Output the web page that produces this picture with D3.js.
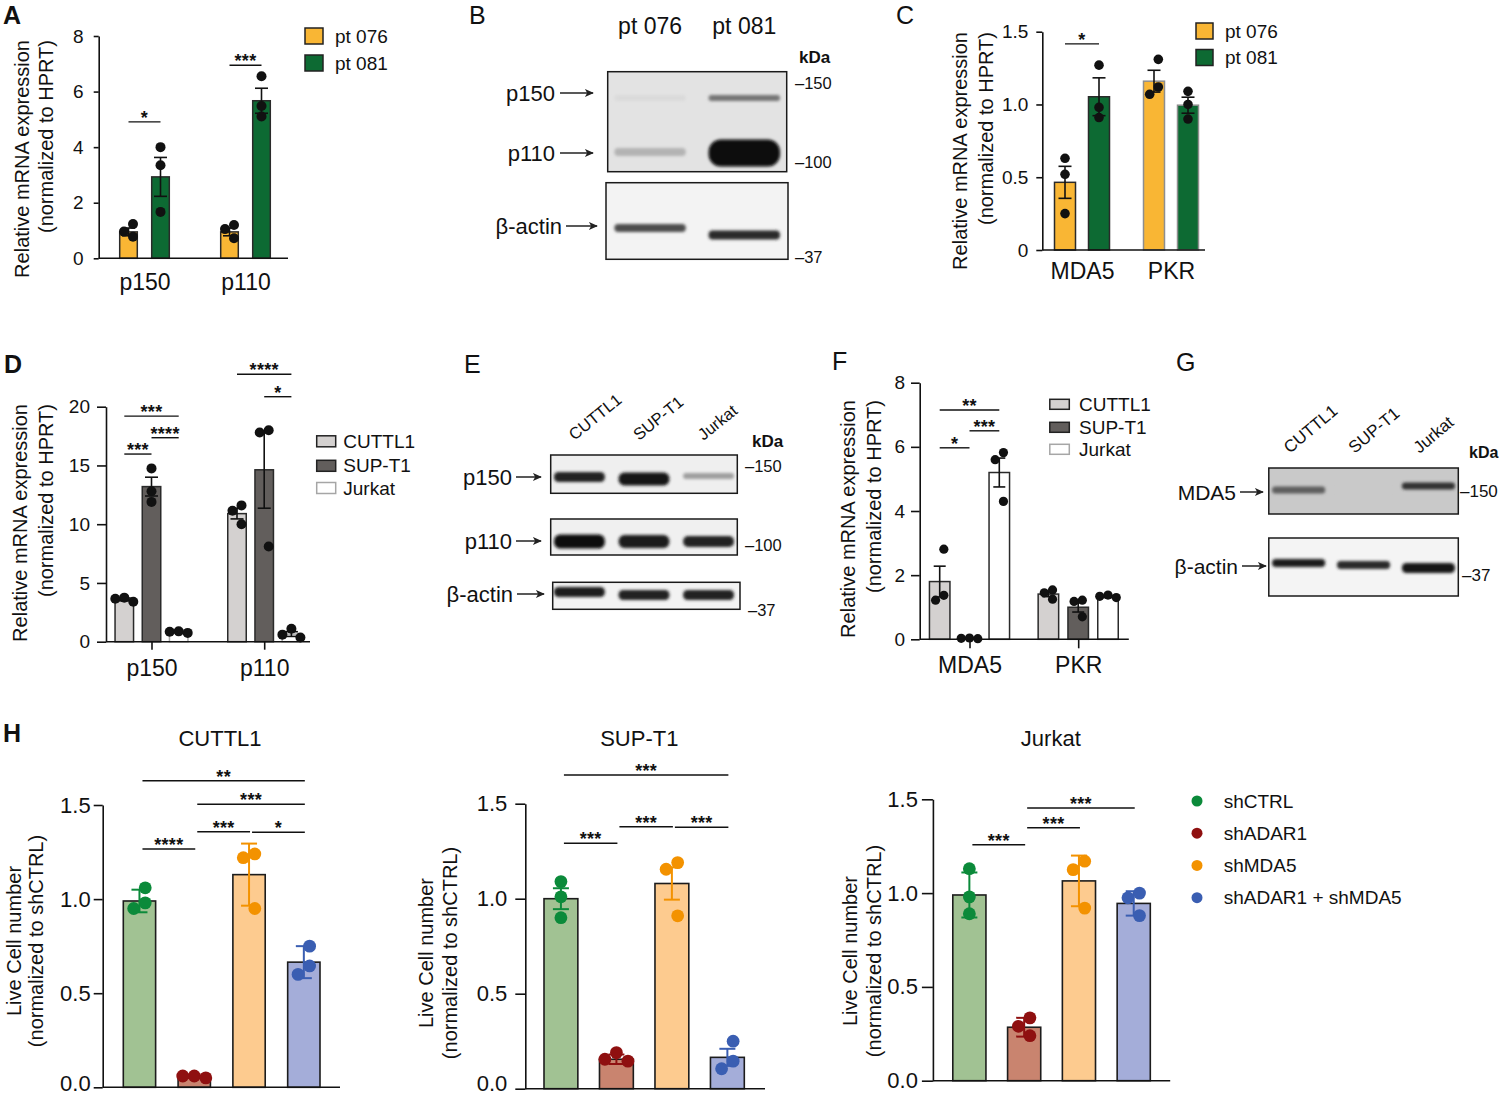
<!DOCTYPE html>
<html><head><meta charset="utf-8">
<script src="https://cdn.jsdelivr.net/npm/d3@7"></script>
<style>
body{margin:0;background:#fff;}
svg{display:block;}
</style></head><body>
<script>
// ======================= DATA =======================
// Panel A – ADAR1 isoform mRNA in patients
const aCategories = ['p150', 'p110'];
const aSeries = ['pt 076', 'pt 081'];
const aTicks = [0, 2, 4, 6, 8];
const aTickLabels = ['0', '2', '4', '6', '8'];
const aPt076Mean = [0.95, 0.95];
const aPt076Err = [0.14, 0.14];
const aPt076Pts = [[1.23, 0.96, 0.78], [1.2, 1.05, 0.72]];
const aPt081Mean = [2.93, 5.67];
const aPt081Err = [0.70, 0.45];
const aPt081Pts = [[4.0, 3.35, 1.67], [6.55, 5.48, 5.1]];
const aSig = [
  {cat: 'p150', from: 'pt 076', to: 'pt 081', level: 4.91, label: '*'},
  {cat: 'p110', from: 'pt 076', to: 'pt 081', level: 6.95, label: '***'}
];

// Panel B – western blot, patients
const bLanes = ['pt 076', 'pt 081'];
const bP150 = [0.04, 0.5];
const bP110 = [0.22, 1.0];
const bActin = [0.7, 0.85];

// Panel C – MDA5 / PKR mRNA in patients
const cCategories = ['MDA5', 'PKR'];
const cTicks = [0, 0.5, 1, 1.5];
const cTickLabels = ['0', '0.5', '1.0', '1.5'];
const cPt076Mean = [0.465, 1.16];
const cPt076Err = [0.11, 0.075];
const cPt076Pts = [[0.63, 0.52, 0.25], [1.31, 1.12, 1.07]];
const cPt081Mean = [1.053, 0.995];
const cPt081Err = [0.13, 0.055];
const cPt081Pts = [[1.27, 0.98, 0.91], [1.09, 1.0, 0.9]];
const cSig = [{cat: 'MDA5', from: 'pt 076', to: 'pt 081', level: 1.416, label: '*'}];

// Panel D – ADAR1 isoform mRNA in cell lines
const dCategories = ['p150', 'p110'];
const dSeries = ['CUTTL1', 'SUP-T1', 'Jurkat'];
const dTicks = [0, 5, 10, 15, 20];
const dTickLabels = ['0', '5', '10', '15', '20'];
const dCuttl1Mean = [3.6, 10.9];
const dCuttl1Err = [0.12, 0.45];
const dCuttl1Pts = [[3.4, 3.75, 3.65], [11.6, 11.15, 10.0]];
const dSupt1Mean = [13.2, 14.63];
const dSupt1Err = [0.8, 3.27];
const dSupt1Pts = [[14.75, 12.8, 11.9], [18.0, 17.8, 8.1]];
const dJurkatMean = [0.82, 0.65];
const dJurkatErr = [0.05, 0.2];
const dJurkatPts = [[0.75, 0.88, 0.85], [1.1, 0.35, 0.6]];
const dSig = [
  {cat: 'p150', from: 'CUTTL1', to: 'SUP-T1', level: 15.97, label: '***'},
  {cat: 'p150', from: 'SUP-T1', to: 'Jurkat', level: 17.36, label: '****'},
  {cat: 'p150', from: 'CUTTL1', to: 'Jurkat', level: 19.2, label: '***'},
  {cat: 'p110', from: 'CUTTL1', to: 'Jurkat', level: 22.76, label: '****'},
  {cat: 'p110', from: 'SUP-T1', to: 'Jurkat', level: 20.85, label: '*'}
];

// Panel E – western blot, cell lines
const eLanes = ['CUTTL1', 'SUP-T1', 'Jurkat'];
const eP150 = [0.88, 0.95, 0.35];
const eP110 = [0.97, 0.92, 0.88];
const eActin = [0.92, 0.88, 0.88];

// Panel F – MDA5 / PKR mRNA in cell lines
const fCategories = ['MDA5', 'PKR'];
const fTicks = [0, 2, 4, 6, 8];
const fTickLabels = ['0', '2', '4', '6', '8'];
const fCuttl1Mean = [1.8, 1.41];
const fCuttl1Err = [0.48, 0.08];
const fCuttl1Pts = [[2.81, 1.22, 1.37], [1.54, 1.25, 1.45]];
const fSupt1Mean = [0.03, 1.0];
const fSupt1Err = [0.01, 0.15];
const fSupt1Pts = [[0.02, 0.03, 0.04], [1.22, 1.18, 0.7]];
const fJurkatMean = [5.2, 1.33];
const fJurkatErr = [0.45, 0.03];
const fJurkatPts = [[5.82, 5.6, 4.3], [1.38, 1.3, 1.34]];
const fSig = [
  {cat: 'MDA5', from: 'CUTTL1', to: 'Jurkat', level: 7.15, label: '**'},
  {cat: 'MDA5', from: 'CUTTL1', to: 'SUP-T1', level: 5.97, label: '*'},
  {cat: 'MDA5', from: 'SUP-T1', to: 'Jurkat', level: 6.5, label: '***'}
];

// Panel G – MDA5 western blot
const gLanes = ['CUTTL1', 'SUP-T1', 'Jurkat'];
const gMDA5 = [0.55, 0.0, 0.78];
const gActin = [0.9, 0.85, 0.95];

// Panel H – live cell number after knockdown
const hGroups = ['shCTRL', 'shADAR1', 'shMDA5', 'shADAR1 + shMDA5'];
const hTicks = [0, 0.5, 1, 1.5];
const hTickLabels = ['0.0', '0.5', '1.0', '1.5'];
const hCuttl1Mean = [0.99, 0.055, 1.13, 0.665];
const hCuttl1Err = [0.06, 0.006, 0.165, 0.085];
const hCuttl1Pts = [[1.06, 0.98, 0.95], [0.05, 0.06, 0.06], [1.24, 1.22, 0.95], [0.75, 0.645, 0.60]];
const hCuttl1Sig = [
  {from: 'shCTRL', to: 'shADAR1', level: 1.266, label: '****'},
  {from: 'shADAR1', to: 'shMDA5', level: 1.358, label: '***'},
  {from: 'shMDA5', to: 'shADAR1 + shMDA5', level: 1.355, label: '*'},
  {from: 'shADAR1', to: 'shADAR1 + shMDA5', level: 1.504, label: '***'},
  {from: 'shCTRL', to: 'shADAR1 + shMDA5', level: 1.629, label: '**'}
];
const hSupt1Mean = [1.0, 0.155, 1.08, 0.165];
const hSupt1Err = [0.055, 0.025, 0.085, 0.045];
const hSupt1Pts = [[1.09, 1.01, 0.9], [0.19, 0.145, 0.155], [1.19, 1.155, 0.91], [0.25, 0.145, 0.105]];
const hSupt1Sig = [
  {from: 'shCTRL', to: 'shADAR1', level: 1.292, label: '***'},
  {from: 'shADAR1', to: 'shMDA5', level: 1.379, label: '***'},
  {from: 'shMDA5', to: 'shADAR1 + shMDA5', level: 1.376, label: '***'},
  {from: 'shCTRL', to: 'shADAR1 + shMDA5', level: 1.651, label: '***'}
];
const hJurkatMean = [0.99, 0.285, 1.065, 0.945];
const hJurkatErr = [0.12, 0.05, 0.135, 0.065];
const hJurkatPts = [[1.13, 0.98, 0.89], [0.335, 0.29, 0.24], [1.17, 1.125, 0.92], [1.0, 0.975, 0.88]];
const hJurkatSig = [
  {from: 'shCTRL', to: 'shADAR1', level: 1.258, label: '***'},
  {from: 'shADAR1', to: 'shMDA5', level: 1.348, label: '***'},
  {from: 'shADAR1', to: 'shADAR1 + shMDA5', level: 1.454, label: '***'}
];

// ======================= STYLE =======================
const FONT = '"Liberation Sans", Arial, Helvetica, sans-serif';
const INK = '#111';
const COL_PT076 = '#F9B634', COL_PT081 = '#0D6A33';
const COL_CUTTL1 = '#D4D1D0', COL_SUPT1 = '#625E5C', COL_JURKAT = '#FFFFFF';
const H_FILL = ['#A1C293', '#C9846F', '#FDCB8F', '#A4ADD9'];
const H_DOT = ['#0B8A3A', '#8F1010', '#F39200', '#3A5EB2'];
const PAGE_H = 1095;

// ======================= SETUP =======================
const svg = d3.select('body').append('svg').attr('width', 1500).attr('height', PAGE_H)
  .attr('font-family', FONT);
svg.append('rect').attr('width', 1500).attr('height', PAGE_H).attr('fill', '#fff');
const defs = svg.append('defs');
defs.append('filter').attr('id', 'blur').attr('x', '-20%').attr('y', '-150%')
  .attr('width', '140%').attr('height', '400%')
  .append('feGaussianBlur').attr('stdDeviation', 1.6);
defs.append('marker').attr('id', 'arr').attr('viewBox', '0 0 10 10').attr('refX', 9).attr('refY', 5)
  .attr('markerWidth', 10).attr('markerHeight', 9).attr('markerUnits', 'userSpaceOnUse').attr('orient', 'auto')
  .append('path').attr('d', 'M0,0.5 L10,5 L0,9.5 L2.5,5 Z').attr('fill', '#222');

function text(g, str, x, y, o = {}) {
  const t = g.append('text').attr('x', x).attr('y', y).text(str)
    .attr('font-size', o.fs || 19).attr('fill', o.fill || INK)
    .attr('text-anchor', o.anchor || 'start').attr('font-family', FONT);
  if (o.bold) t.attr('font-weight', 'bold');
  if (o.db) t.attr('dominant-baseline', o.db);
  if (o.ls != null) t.attr('letter-spacing', o.ls);
  if (o.rot != null) t.attr('transform', `rotate(${o.rot},${x},${y})`);
  return t;
}

function yAxis(g, y, x, ticks, labels, o) {
  const a = g.append('g').attr('transform', `translate(${x},0)`)
    .call(d3.axisLeft(y).tickValues(ticks).tickFormat((d, i) => labels[i])
      .tickSize(o.tick).tickPadding(o.pad).tickSizeOuter(0));
  a.select('.domain').attr('stroke', INK).attr('stroke-width', 1.6);
  a.selectAll('.tick line').attr('stroke', INK).attr('stroke-width', 1.6);
  a.selectAll('.tick text').attr('font-size', o.fs).attr('fill', INK).attr('font-family', FONT)
    .attr('dy', d => {
      // keep the lowest label inside the page (baseline + descent)
      const base = y(d) + 0.32 * o.fs, limit = PAGE_H - 0.22 * o.fs;
      return (base > limit ? (limit - y(d)) : 0.32 * o.fs) + 'px';
    });
}

function catAxis(g, xs, y0, o) {
  const a = g.append('g').attr('transform', `translate(0,${y0})`)
    .call(d3.axisBottom(xs).tickSize(o.tick).tickPadding(o.pad).tickSizeOuter(0));
  a.select('.domain').remove();
  a.selectAll('.tick line').attr('stroke', INK).attr('stroke-width', 1.6);
  a.selectAll('.tick text').attr('font-size', o.fs).attr('fill', INK).attr('font-family', FONT);
}

// GraphPad-like horizontal spreading of overlapping points
function spread(vals, y, r) {
  const pts = vals.map(v => ({v, py: y(v)})).sort((a, b) => b.v - a.v);
  const d = 1.8 * r, placed = [];
  pts.forEach(p => {
    for (const k of [0, -1, 1, -2, 2]) {
      const ox = k * d;
      if (placed.every(q => Math.hypot(q.ox - ox, q.py - p.py) >= d - 0.01)) { p.ox = ox; break; }
    }
    if (p.ox === undefined) p.ox = 0;
    placed.push(p);
  });
  const sh = -(d3.min(placed, p => p.ox) + d3.max(placed, p => p.ox)) / 2;
  placed.forEach(p => p.ox += sh);
  return placed;
}

function drawBars(g, y, items, o) {
  g.selectAll(null).data(items).join('rect')
    .attr('x', d => d.cx - d.w / 2).attr('y', d => y(d.mean))
    .attr('width', d => d.w).attr('height', d => y(0) - y(d.mean))
    .attr('fill', d => d.fill).attr('stroke', d => d.stroke).attr('stroke-width', o.sw);
  items.forEach(d => {
    const eg = g.append('g').attr('stroke', d.errColor).attr('stroke-width', o.ew).attr('fill', 'none');
    const yt = y(d.mean + d.err), yb = y(Math.max(0, d.mean - d.err));
    eg.append('line').attr('x1', d.cx).attr('x2', d.cx).attr('y1', yt).attr('y2', yb);
    eg.append('line').attr('x1', d.cx - o.cap).attr('x2', d.cx + o.cap).attr('y1', yt).attr('y2', yt);
    eg.append('line').attr('x1', d.cx - o.cap).attr('x2', d.cx + o.cap).attr('y1', yb).attr('y2', yb);
  });
  items.forEach(d => {
    g.selectAll(null).data(spread(d.pts, y, o.r)).join('circle')
      .attr('cx', p => d.cx + p.ox).attr('cy', p => p.py).attr('r', o.r).attr('fill', d.dot);
  });
}

function bracket(g, x1, x2, yy, label, fs) {
  g.append('line').attr('x1', x1).attr('x2', x2).attr('y1', yy).attr('y2', yy)
    .attr('stroke', INK).attr('stroke-width', 1.4);
  text(g, label, (x1 + x2) / 2, yy + 2, {fs: fs || 18, anchor: 'middle', bold: true, ls: 0.3});
}

function yTitle2(g, l1, l2, x1, x2, yy, anchor) {
  text(g, l1, x1, yy, {fs: 20, anchor, db: 'central', rot: -90});
  text(g, l2, x2, yy, {fs: 20, anchor, db: 'central', rot: -90});
}

// ---------- grouped bar panel (A, C, D, F) ----------
function groupedPanel(c) {
  const g = svg.append('g');
  const y = d3.scaleLinear().domain(c.yDomain).range(c.yRange);
  const x = d3.scalePoint().domain(c.categories).range(c.catRange);
  const n = c.series.length;
  const s = d3.scaleBand().domain(c.series.map(d => d.name))
    .range([-n * c.step / 2, n * c.step / 2])
    .paddingInner(1 - c.bw / c.step).paddingOuter((1 - c.bw / c.step) / 2);
  const cx = (cat, sn) => x(cat) + s(sn) + s.bandwidth() / 2;
  const items = [];
  c.categories.forEach((cat, ci) => c.series.forEach(se => items.push({
    cx: cx(cat, se.name), w: s.bandwidth(), mean: se.mean[ci], err: se.err[ci], pts: se.pts[ci],
    fill: se.fill, stroke: Array.isArray(se.stroke) ? se.stroke[ci] : se.stroke, dot: INK, errColor: INK
  })));
  drawBars(g, y, items, c.barOpt);
  g.append('line').attr('x1', c.axisX).attr('x2', c.xEnd).attr('y1', y(0)).attr('y2', y(0))
    .attr('stroke', INK).attr('stroke-width', 1.6);
  yAxis(g, y, c.axisX, c.ticks, c.tickLabels, c.yOpt);
  catAxis(g, x, y(0), c.xOpt);
  c.sig.forEach(b => bracket(g, cx(b.cat, b.from), cx(b.cat, b.to), y(b.level), b.label));
  // legend
  c.series.forEach((se, i) => {
    const cy = c.legend.rows[i];
    g.append('rect').attr('x', c.legend.x).attr('y', cy - c.legend.h / 2)
      .attr('width', c.legend.w).attr('height', c.legend.h)
      .attr('fill', se.fill).attr('stroke', se.legendStroke || '#222').attr('stroke-width', 1.5);
    text(g, se.name, c.legend.tx, cy, {fs: 19, db: 'central'});
  });
  yTitle2(g, 'Relative mRNA expression', '(normalized to HPRT)', c.title.x1, c.title.x2, c.title.y, 'end');
  text(g, c.panel.t, c.panel.x, c.panel.y, {fs: 25, bold: c.panel.bold});
  return g;
}

// ---------- blot panel (B, E, G) ----------
let clipN = 0;
function blotPanel(c) {
  const g = svg.append('g');
  const lanes = d3.scaleBand().domain(c.lanes).range(c.laneRange)
    .paddingInner(c.pi).paddingOuter(c.po);
  c.blots.forEach(b => {
    const id = 'clip' + (clipN++);
    defs.append('clipPath').attr('id', id).append('rect')
      .attr('x', b.box[0]).attr('y', b.box[1]).attr('width', b.box[2] - b.box[0]).attr('height', b.box[3] - b.box[1]);
    const bg = g.append('g').attr('clip-path', `url(#${id})`);
    bg.append('rect').attr('x', b.box[0]).attr('y', b.box[1])
      .attr('width', b.box[2] - b.box[0]).attr('height', b.box[3] - b.box[1]).attr('fill', b.bg);
    const col = d3.scaleLinear().domain([0, 1]).range([b.bg, '#070707']).interpolate(d3.interpolateRgb);
    b.rows.forEach(r => {
      const pick = (v, i) => Array.isArray(v) ? v[i] : v;
      bg.selectAll(null).data(r.vals.map((v, i) => ({v, i, lane: c.lanes[i]}))).join('rect')
        .attr('x', d => lanes(d.lane) + 2).attr('width', lanes.bandwidth() - 4)
        .attr('y', d => pick(r.cy, d.i) - pick(r.thick, d.i) / 2)
        .attr('height', d => pick(r.thick, d.i))
        .attr('rx', d => pick(r.thick, d.i) / 2.2)
        .attr('fill', d => col(d.v)).attr('filter', 'url(#blur)');
    });
    g.append('rect').attr('x', b.box[0]).attr('y', b.box[1])
      .attr('width', b.box[2] - b.box[0]).attr('height', b.box[3] - b.box[1])
      .attr('fill', 'none').attr('stroke', '#1a1a1a').attr('stroke-width', 1.5);
  });
  c.labels.forEach(l => {
    text(g, l.t, l.x, l.y, {fs: c.labelFs, anchor: 'end', db: 'central'});
    g.append('line').attr('x1', l.a1).attr('x2', l.a2).attr('y1', l.y).attr('y2', l.y)
      .attr('stroke', '#222').attr('stroke-width', 1.5).attr('marker-end', 'url(#arr)');
  });
  c.markers.forEach(m => text(g, m.t, m.x, m.y, {fs: c.markerFs, db: 'central'}));
  text(g, 'kDa', c.kda[0], c.kda[1], {fs: c.kdaFs, bold: true});
  c.lanes.forEach(ln => {
    const x = lanes(ln) + lanes.bandwidth() / 2;
    if (c.laneRot) text(g, ln, x + c.laneDx, c.laneY, {fs: c.laneFs, rot: c.laneRot});
    else text(g, ln, x, c.laneY, {fs: c.laneFs, anchor: 'middle'});
  });
  text(g, c.panel.t, c.panel.x, c.panel.y, {fs: 25, bold: c.panel.bold});
}

// ---------- H panel ----------
function hPanel(c) {
  const g = svg.append('g');
  const y = d3.scaleLinear().domain([0, 1.5]).range(c.yRange);
  const x = d3.scaleBand().domain(hGroups).range(c.barRange).paddingInner(c.pi);
  const cx = name => x(name) + x.bandwidth() / 2;
  const items = hGroups.map((gn, i) => ({
    cx: cx(gn), w: x.bandwidth(), mean: c.mean[i], err: c.err[i], pts: c.pts[i],
    fill: H_FILL[i], stroke: '#1c1c1c', dot: H_DOT[i], errColor: H_DOT[i]
  }));
  drawBars(g, y, items, {sw: 1.6, ew: 2, cap: 8, r: 6.4});
  g.append('line').attr('x1', c.axisX).attr('x2', c.xEnd).attr('y1', y(0)).attr('y2', y(0))
    .attr('stroke', INK).attr('stroke-width', 1.6);
  yAxis(g, y, c.axisX, hTicks, hTickLabels, {tick: c.tick, pad: c.pad, fs: 22});
  c.sig.forEach(b => bracket(g, cx(b.from) + 3, cx(b.to) + 1, y(b.level), b.label));
  text(g, c.name, c.titleX, 746, {fs: 22, anchor: 'middle'});
  yTitle2(g, 'Live Cell number', '(normalized to shCTRL)', c.tx1, c.tx2, c.ty, 'middle');
  return g;
}

// ======================= PANELS =======================
groupedPanel({
  categories: aCategories, yDomain: [0, 8], yRange: [258.3, 36], catRange: [144.5, 245.5],
  step: 32, bw: 17.6, axisX: 98.7, xEnd: 288,
  ticks: aTicks, tickLabels: aTickLabels,
  yOpt: {tick: 5, pad: 10, fs: 19}, xOpt: {tick: 0, pad: 15, fs: 23},
  barOpt: {sw: 1.5, ew: 1.6, cap: 6.5, r: 5},
  series: [
    {name: aSeries[0], mean: aPt076Mean, err: aPt076Err, pts: aPt076Pts, fill: COL_PT076, stroke: '#2a2a2a'},
    {name: aSeries[1], mean: aPt081Mean, err: aPt081Err, pts: aPt081Pts, fill: COL_PT081, stroke: '#2a2a2a'}
  ],
  sig: aSig,
  legend: {x: 305, w: 18, h: 16, rows: [36, 63], tx: 335},
  title: {x1: 21.5, x2: 46, y: 40},
  panel: {t: 'A', x: 3, y: 24, bold: true}
});

blotPanel({
  lanes: bLanes, laneRange: [607.7, 786.7], pi: 0.2, po: 0.05,
  blots: [
    {box: [607.7, 71.7, 786.7, 171.7], bg: '#e3e3e3', rows: [
      {vals: bP150, cy: 98, thick: 6},
      {vals: bP110, cy: [152, 153], thick: [8, 27]}
    ]},
    {box: [606, 182.7, 788, 259.3], bg: '#f3f3f3', rows: [
      {vals: bActin, cy: [228, 235], thick: [8, 9]}
    ]}
  ],
  labels: [
    {t: 'p150', x: 555, y: 93, a1: 560, a2: 593},
    {t: 'p110', x: 555, y: 153, a1: 560, a2: 593},
    {t: 'β-actin', x: 562, y: 226, a1: 566, a2: 597}
  ],
  labelFs: 22,
  markers: [{t: '–150', x: 795, y: 83}, {t: '–100', x: 795, y: 162}, {t: '–37', x: 795, y: 257}],
  markerFs: 16.5, kda: [799, 63], kdaFs: 17,
  laneY: 34, laneFs: 23,
  panel: {t: 'B', x: 469, y: 24, bold: false}
});

groupedPanel({
  categories: cCategories, yDomain: [0, 1.5], yRange: [250, 31.7], catRange: [1082, 1171],
  step: 34, bw: 21, axisX: 1042.3, xEnd: 1205,
  ticks: cTicks, tickLabels: cTickLabels,
  yOpt: {tick: 6, pad: 8, fs: 19}, xOpt: {tick: 0, pad: 13, fs: 23},
  barOpt: {sw: 1.5, ew: 1.6, cap: 6.5, r: 4.8},
  series: [
    {name: aSeries[0], mean: cPt076Mean, err: cPt076Err, pts: cPt076Pts, fill: COL_PT076, stroke: ['#2a2a2a', '#8e8e8e']},
    {name: aSeries[1], mean: cPt081Mean, err: cPt081Err, pts: cPt081Pts, fill: COL_PT081, stroke: ['#2a2a2a', '#8e8e8e']}
  ],
  sig: cSig,
  legend: {x: 1196, w: 17, h: 16, rows: [31, 57.5], tx: 1225},
  title: {x1: 960, x2: 986, y: 32},
  panel: {t: 'C', x: 896, y: 24, bold: false}
});

groupedPanel({
  categories: dCategories, yDomain: [0, 20], yRange: [641.7, 406.7], catRange: [151.5, 264.2],
  step: 27.2, bw: 18.5, axisX: 106, xEnd: 310,
  ticks: dTicks, tickLabels: dTickLabels,
  yOpt: {tick: 9, pad: 7, fs: 19}, xOpt: {tick: 8, pad: 10, fs: 23},
  barOpt: {sw: 1.5, ew: 1.6, cap: 6.5, r: 5},
  series: [
    {name: dSeries[0], mean: dCuttl1Mean, err: dCuttl1Err, pts: dCuttl1Pts, fill: COL_CUTTL1, stroke: '#2a2a2a'},
    {name: dSeries[1], mean: dSupt1Mean, err: dSupt1Err, pts: dSupt1Pts, fill: COL_SUPT1, stroke: '#2a2a2a'},
    {name: dSeries[2], mean: dJurkatMean, err: dJurkatErr, pts: dJurkatPts, fill: COL_JURKAT, stroke: '#a6a6a6', legendStroke: '#a6a6a6'}
  ],
  sig: dSig,
  legend: {x: 316.7, w: 19, h: 11, rows: [441.3, 465.8, 488], tx: 343.3},
  title: {x1: 20, x2: 46, y: 404},
  panel: {t: 'D', x: 4, y: 373, bold: true}
});

blotPanel({
  lanes: eLanes, laneRange: [550.7, 737.3], pi: 0.15, po: 0.02,
  blots: [
    {box: [550.7, 455, 737.3, 493.3], bg: '#efefef', rows: [
      {vals: eP150, cy: [477, 479, 476], thick: [10, 13, 6]}
    ]},
    {box: [550.7, 519, 737.3, 555], bg: '#f0f0f0', rows: [
      {vals: eP110, cy: 541.5, thick: [14, 13, 11]}
    ]},
    {box: [552.7, 582.3, 740, 609.3], bg: '#f3f3f3', rows: [
      {vals: eActin, cy: [592, 595, 595], thick: 10}
    ]}
  ],
  labels: [
    {t: 'p150', x: 512, y: 477, a1: 516, a2: 541},
    {t: 'p110', x: 512, y: 541, a1: 516, a2: 541},
    {t: 'β-actin', x: 513, y: 594, a1: 517, a2: 544}
  ],
  labelFs: 22,
  markers: [{t: '–150', x: 745, y: 466}, {t: '–100', x: 745, y: 545}, {t: '–37', x: 748, y: 610}],
  markerFs: 16.5, kda: [752, 447], kdaFs: 17,
  laneY: 441, laneFs: 16.5, laneRot: -39, laneDx: -5,
  panel: {t: 'E', x: 464, y: 373, bold: false}
});

groupedPanel({
  categories: fCategories, yDomain: [0, 8], yRange: [639.3, 382.7], catRange: [969.5, 1078.2],
  step: 29.8, bw: 20.5, axisX: 919.7, xEnd: 1128.8,
  ticks: fTicks, tickLabels: fTickLabels,
  yOpt: {tick: 8.7, pad: 6, fs: 19}, xOpt: {tick: 9, pad: 8.5, fs: 23},
  barOpt: {sw: 1.5, ew: 1.6, cap: 6, r: 4.6},
  series: [
    {name: dSeries[0], mean: fCuttl1Mean, err: fCuttl1Err, pts: fCuttl1Pts, fill: COL_CUTTL1, stroke: '#2a2a2a'},
    {name: dSeries[1], mean: fSupt1Mean, err: fSupt1Err, pts: fSupt1Pts, fill: COL_SUPT1, stroke: '#2a2a2a'},
    {name: dSeries[2], mean: fJurkatMean, err: fJurkatErr, pts: fJurkatPts, fill: COL_JURKAT, stroke: '#2a2a2a', legendStroke: '#a6a6a6'}
  ],
  sig: fSig,
  legend: {x: 1049.8, w: 19.5, h: 10, rows: [404.3, 427.3, 449.3], tx: 1079},
  title: {x1: 848, x2: 874, y: 400},
  panel: {t: 'F', x: 832, y: 370, bold: false}
});

blotPanel({
  lanes: gLanes, laneRange: [1268.8, 1458.3], pi: 0.12, po: 0.02,
  blots: [
    {box: [1268.8, 468, 1458.3, 514], bg: '#c9c9c9', rows: [
      {vals: gMDA5, cy: [490, 490, 486], thick: 7}
    ]},
    {box: [1268.8, 538, 1458.3, 596], bg: '#f4f4f4', rows: [
      {vals: gActin, cy: [563, 565, 568], thick: [8, 8, 10]}
    ]}
  ],
  labels: [
    {t: 'MDA5', x: 1236, y: 492, a1: 1240, a2: 1263},
    {t: 'β-actin', x: 1238, y: 566, a1: 1242, a2: 1266}
  ],
  labelFs: 21,
  markers: [{t: '–150', x: 1460, y: 491}, {t: '–37', x: 1462, y: 575}],
  markerFs: 17, kda: [1469, 458], kdaFs: 16,
  laneY: 454, laneFs: 17, laneRot: -40, laneDx: -9,
  panel: {t: 'G', x: 1176, y: 371, bold: false}
});

hPanel({
  name: 'CUTTL1', mean: hCuttl1Mean, err: hCuttl1Err, pts: hCuttl1Pts, sig: hCuttl1Sig,
  yRange: [1087.3, 805], barRange: [123.3, 320], pi: 0.41, axisX: 102.7, xEnd: 340,
  tick: 9, pad: 3, titleX: 220, tx1: 13.5, tx2: 36, ty: 941
});
hPanel({
  name: 'SUP-T1', mean: hSupt1Mean, err: hSupt1Err, pts: hSupt1Pts, sig: hSupt1Sig,
  yRange: [1088.7, 803.7], barRange: [544, 744.3], pi: 0.39, axisX: 525.3, xEnd: 765,
  tick: 10, pad: 8, titleX: 639.3, tx1: 426, tx2: 450, ty: 953
});
hPanel({
  name: 'Jurkat', mean: hJurkatMean, err: hJurkatErr, pts: hJurkatPts, sig: hJurkatSig,
  yRange: [1080.7, 799.3], barRange: [952.8, 1150.3], pi: 0.395, axisX: 932.9, xEnd: 1170.2,
  tick: 11, pad: 4, titleX: 1050.8, tx1: 849.5, tx2: 873.5, ty: 951
});
text(svg, 'H', 3, 742, {fs: 25, bold: true});

// H legend
{
  const lg = svg.append('g');
  const ly = d3.scalePoint().domain(hGroups).range([801, 897.7]);
  hGroups.forEach((gn, i) => {
    lg.append('circle').attr('cx', 1197).attr('cy', ly(gn)).attr('r', 5.5).attr('fill', H_DOT[i]);
    text(lg, gn, 1223.7, ly(gn), {fs: 19, db: 'central'});
  });
}
</script>
</body></html>
